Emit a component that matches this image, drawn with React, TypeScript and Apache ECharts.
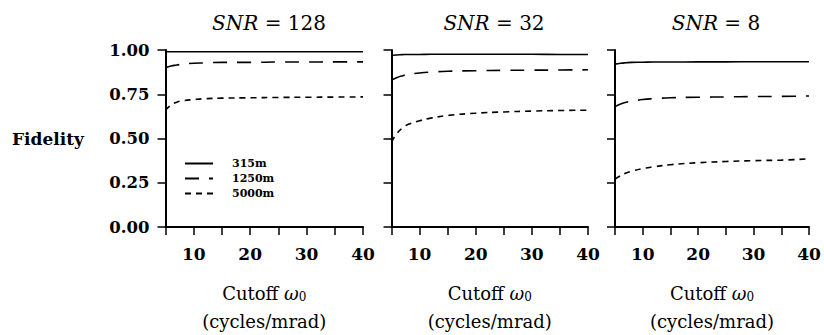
import React, { useEffect, useRef } from "react";
import * as echarts from "echarts";

const xs = [5, 6, 7, 8, 10, 12, 15, 20, 25, 30, 35, 40];
const seriesNames = ["315m", "1250m", "5000m"];
const panelTitles = ["128", "32", "8"];

// SNR = 128
const p1_315 = [0.99, 0.99, 0.99, 0.99, 0.99, 0.99, 0.99, 0.99, 0.99, 0.99, 0.99, 0.99];
const p1_1250 = [0.9, 0.91, 0.915, 0.92, 0.925, 0.927, 0.93, 0.93, 0.932, 0.932, 0.933, 0.933];
const p1_5000 = [0.66, 0.69, 0.705, 0.713, 0.72, 0.725, 0.728, 0.73, 0.732, 0.733, 0.734, 0.735];
// SNR = 32
const p2_315 = [0.97, 0.972, 0.974, 0.975, 0.975, 0.976, 0.976, 0.976, 0.976, 0.976, 0.975, 0.975];
const p2_1250 = [0.83, 0.845, 0.855, 0.862, 0.87, 0.875, 0.88, 0.883, 0.885, 0.886, 0.887, 0.888];
const p2_5000 = [0.48, 0.53, 0.56, 0.58, 0.6, 0.615, 0.63, 0.643, 0.65, 0.655, 0.658, 0.66];
// SNR = 8
const p3_315 = [0.92, 0.925, 0.928, 0.93, 0.931, 0.932, 0.932, 0.933, 0.933, 0.934, 0.934, 0.934];
const p3_1250 = [0.68, 0.695, 0.705, 0.71, 0.72, 0.725, 0.73, 0.733, 0.735, 0.737, 0.738, 0.74];
const p3_5000 = [0.27, 0.29, 0.305, 0.315, 0.33, 0.34, 0.352, 0.363, 0.37, 0.375, 0.378, 0.385];

const panels = [
  [p1_315, p1_1250, p1_5000],
  [p2_315, p2_1250, p2_5000],
  [p3_315, p3_1250, p3_5000],
];

const FONT = "DejaVu Serif";

export default function App() {
  const ref = useRef<HTMLDivElement>(null);
  useEffect(() => {
    if (!ref.current) return;
    const chart = echarts.init(ref.current, undefined, { renderer: "svg" });
    const grids = [
      { left: 165.5, top: 50, width: 197.5, height: 182 },
      { left: 391.5, top: 50, width: 196.5, height: 182 },
      { left: 615, top: 50, width: 194, height: 182 },
    ];
    const dashes: any[] = ["solid", [14, 10], [6, 5]];
    const series: any[] = [];
    panels.forEach((panel, pi) => {
      panel.forEach((vals, si) => {
        series.push({
          type: "line",
          name: seriesNames[si],
          xAxisIndex: pi,
          yAxisIndex: pi,
          data: xs.map((x, i) => [x, vals[i]]),
          symbol: "none",
          smooth: true,
          itemStyle: { color: "#000" },
          lineStyle: { color: "#000", width: 1.6, type: dashes[si] },
        });
      });
    });
    const titleCenters = [264, 489, 711];
    const option: any = {
      animation: false,
      backgroundColor: "#fff",
      color: ["#000"],
      title: panelTitles.map((t, i) => ({
        text: `{i|SNR} = ${t}`,
        left: titleCenters[i],
        top: 8,
        textAlign: "center",
        textStyle: {
          fontFamily: FONT,
          fontSize: 20,
          fontWeight: "normal",
          color: "#000",
          rich: {
            i: { fontFamily: FONT, fontStyle: "italic", fontSize: 20, color: "#000" },
          },
        },
      })),
      legend: {
        data: seriesNames,
        orient: "vertical",
        left: 179,
        top: 153,
        itemWidth: 28,
        itemHeight: 10,
        itemGap: 4,
        itemStyle: { opacity: 0 },
        textStyle: {
          fontFamily: FONT,
          fontSize: 11,
          fontWeight: "bold",
          color: "#000",
          padding: [0, 0, 0, 14],
        },
      },
      grid: grids,
      xAxis: grids.map((_, i) => ({
        type: "value",
        gridIndex: i,
        min: 5,
        max: 40,
        interval: 5,
        name: "{a|Cutoff }{w|ω}{s|0}\n{b|(cycles/mrad)}",
        nameLocation: "middle",
        nameGap: 52,
        nameTextStyle: {
          rich: {
            a: { fontFamily: FONT, fontSize: 18, color: "#000", lineHeight: 28 },
            w: { fontFamily: FONT, fontStyle: "italic", fontSize: 18, color: "#000", lineHeight: 28 },
            s: { fontFamily: FONT, fontSize: 12, color: "#000", padding: [8, 0, 0, 0], lineHeight: 28 },
            b: { fontFamily: FONT, fontSize: 18, color: "#000", lineHeight: 28 },
          },
        },
        splitLine: { show: false },
        axisLine: { onZero: false, lineStyle: { color: "#000", width: 2 } },
        axisTick: { length: 8, lineStyle: { color: "#000", width: 1.5 } },
        axisLabel: {
          margin: 18,
          fontFamily: FONT,
          fontSize: 17,
          fontWeight: "bold",
          color: "#000",
          formatter: (v: number) => (v % 10 === 0 ? String(v) : ""),
        },
      })),
      yAxis: grids.map((_, i) => ({
        type: "value",
        gridIndex: i,
        min: 0,
        max: 1,
        interval: 0.25,
        splitLine: { show: false },
        axisLine: { onZero: false, lineStyle: { color: "#000", width: 2 } },
        axisTick: { length: 8, lineStyle: { color: "#000", width: 1.5 } },
        axisLabel: {
          show: i === 0,
          margin: 16,
          fontFamily: FONT,
          fontSize: 16.5,
          fontWeight: "bold",
          color: "#000",
          formatter: (v: number) => v.toFixed(2),
        },
      })),
      graphic: [
        {
          type: "text",
          left: 12,
          top: 130,
          style: { text: "Fidelity", fontFamily: FONT, fontSize: 17, fontWeight: "bold", fill: "#000" },
        },
      ],
      series,
    };
    chart.setOption(option);
    return () => chart.dispose();
  }, []);
  return (
    <div
      ref={ref}
      style={{ position: "fixed", left: 0, top: 0, width: 824, height: 335, background: "#fff" }}
    />
  );
}
